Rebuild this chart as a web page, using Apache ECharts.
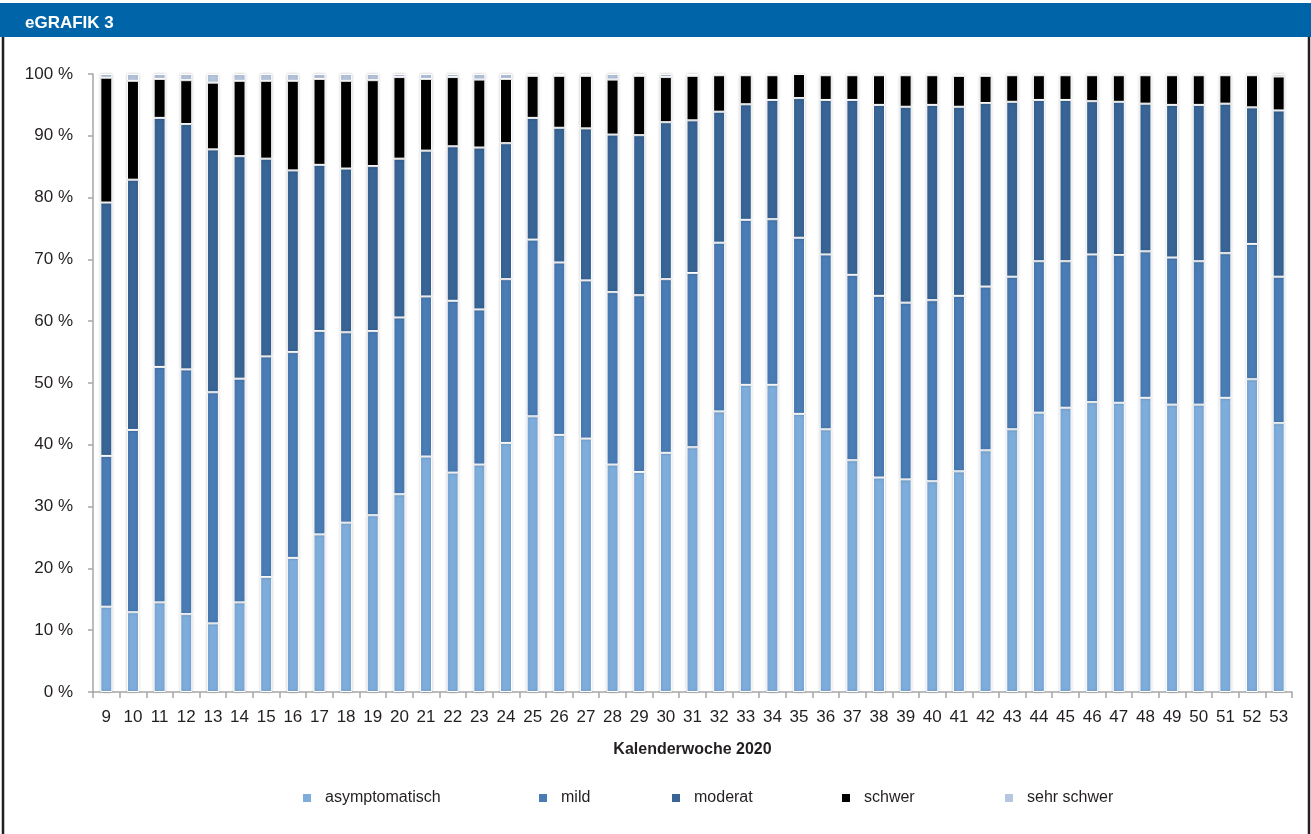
<!DOCTYPE html>
<html>
<head>
<meta charset="utf-8">
<script src="https://cdn.jsdelivr.net/npm/echarts@6/dist/echarts.min.js"></script>
<style>
  html, body { margin: 0; padding: 0; background: #fff; }
  #chart { width: 1311px; height: 834px; }
</style>
</head>
<body>
<div id="chart"></div>
<script>
var FONT = '"Liberation Sans", Arial, sans-serif';

// Kalenderwochen 9..53
var weeks = ['9','10','11','12','13','14','15','16','17','18','19','20','21','22','23','24','25','26','27','28','29','30','31',
             '32','33','34','35','36','37','38','39','40','41','42','43','44','45','46','47','48','49','50','51','52','53'];

var asymptomatisch = [13.8,12.9,14.5,12.6,11.1,14.5,18.6,21.7,25.5,27.4,28.6,32.0,38.1,35.5,36.8,40.3,44.6,41.6,41.0,36.8,35.6,38.7,39.6,
                      45.4,49.7,49.7,45.0,42.5,37.5,34.7,34.4,34.1,35.7,39.1,42.5,45.2,46.0,46.9,46.8,47.6,46.5,46.5,47.6,50.6,43.5];
var mild =           [24.4,29.5,38.1,39.6,37.4,36.2,35.7,33.3,32.9,30.8,29.8,28.6,25.9,27.8,25.1,26.5,28.6,27.9,25.6,27.9,28.6,28.1,28.2,
                      27.3,26.7,26.8,28.5,28.3,30.0,29.4,28.6,29.3,28.4,26.5,24.7,24.5,23.7,23.9,23.9,23.7,23.8,23.2,23.4,21.9,23.7];
var moderat =        [41.0,40.5,40.3,39.7,39.3,36.0,32.0,29.4,26.9,26.5,26.7,25.7,23.6,25.0,26.2,22.0,19.7,21.8,24.6,25.5,25.9,25.4,24.7,
                      21.2,18.7,19.3,22.6,25.0,28.3,30.9,31.7,31.6,30.6,29.7,28.3,26.1,26.1,24.8,24.8,23.9,24.7,25.3,24.2,22.1,26.9];
var schwer =         [20.2,16.0,6.3,7.1,10.8,12.2,12.6,14.5,13.9,14.2,13.9,13.2,11.6,11.2,11.0,10.4,6.8,8.4,8.5,8.9,9.6,7.3,7.2,
                      5.9,4.7,4.0,3.9,4.0,4.0,4.8,5.1,4.8,5.0,4.4,4.3,4.0,4.0,4.2,4.3,4.6,4.8,4.8,4.6,5.2,5.5];
var sehrSchwer =     [0.6,1.1,0.8,1.0,1.4,1.1,1.1,1.1,0.8,1.1,1.0,0.5,0.8,0.5,0.9,0.8,0.3,0.3,0.3,0.9,0.3,0.5,0.3,
                      0.2,0.2,0.2,0.1,0.2,0.2,0.2,0.2,0.2,0.2,0.2,0.2,0.2,0.2,0.2,0.2,0.2,0.2,0.2,0.2,0.2,0.4];

var seriesNames = ['asymptomatisch', 'mild', 'moderat', 'schwer', 'sehr schwer'];
var seriesData = [asymptomatisch, mild, moderat, schwer, sehrSchwer];
var colors = ['#7eaddc', '#4a7cb5', '#386596', '#000000', '#b6c6de'];
var legendLeft = [301, 537, 670, 840, 1003];

var series = [];
for (var i = 0; i < seriesNames.length; i++) {
    series.push({
        name: seriesNames[i],
        type: 'bar',
        stack: 'total',
        barWidth: 12,
        data: seriesData[i],
        itemStyle: {
            color: colors[i],
            borderColor: '#ffffff',
            borderWidth: 1,
            shadowColor: 'rgba(0,0,0,0.22)',
            shadowBlur: 3
        },
        emphasis: { disabled: true }
    });
}

// one legend per item, so the spacing follows the original
var legends = [];
for (var i = 0; i < seriesNames.length; i++) {
    legends.push({
        data: [seriesNames[i]],
        left: legendLeft[i],
        top: 790,
        icon: 'rect',
        itemWidth: 10,
        itemHeight: 10,
        itemGap: 0,
        padding: 0,
        textStyle: { fontFamily: FONT, fontSize: 16, color: '#231f20', padding: [0, 0, 0, 8] }
    });
}

var chart = echarts.init(document.getElementById('chart'));
chart.setOption({
    animation: false,
    textStyle: { fontFamily: FONT },
    graphic: [
        { type: 'rect', shape: { x: 0, y: 3, width: 1311, height: 34 }, style: { fill: '#0065a8' } },
        { type: 'text', left: 25, top: 15, style: { text: 'eGRAFIK 3', fill: '#ffffff', font: 'bold 17px "Liberation Sans", Arial, sans-serif' } },
        { type: 'polyline', shape: { points: [[3, 37], [3, 834]] }, style: { stroke: '#231f20', lineWidth: 2.5 } },
        { type: 'polyline', shape: { points: [[1309, 37], [1309, 834]] }, style: { stroke: '#231f20', lineWidth: 2.5 } }
    ],
    legend: legends,
    grid: { left: 93, right: 19, top: 74, bottom: 142 },
    xAxis: {
        type: 'category',
        data: weeks,
        name: 'Kalenderwoche 2020',
        nameLocation: 'middle',
        nameGap: 50,
        nameTextStyle: { fontFamily: FONT, fontSize: 16, fontWeight: 'bold', color: '#231f20' },
        axisLine: { lineStyle: { color: '#a6a6a6', width: 1.5 } },
        axisTick: { show: true, length: 6, interval: 0, lineStyle: { color: '#a6a6a6', width: 1.5 } },
        axisLabel: { interval: 0, margin: 17, fontFamily: FONT, fontSize: 17, color: '#231f20' }
    },
    yAxis: {
        type: 'value',
        min: 0,
        max: 100,
        interval: 10,
        splitLine: { show: false },
        axisLine: { show: true, lineStyle: { color: '#a6a6a6', width: 1.5 } },
        axisTick: { show: true, length: 5, lineStyle: { color: '#a6a6a6', width: 1.5 } },
        axisLabel: { formatter: '{value} %', margin: 20, fontFamily: FONT, fontSize: 17, color: '#231f20' }
    },
    series: series
});
</script>
</body>
</html>
